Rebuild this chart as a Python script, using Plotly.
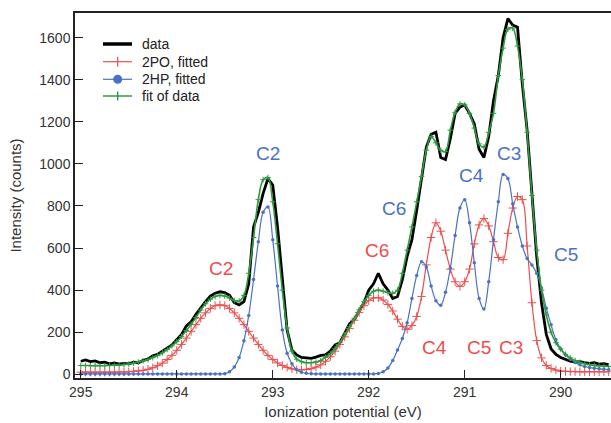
import plotly.graph_objects as go

# Ionization potential grid (eV), 0.05 eV spacing, 295.00 -> 289.50
energy = [
    295.00, 294.95, 294.90, 294.85, 294.80, 294.75, 294.70, 294.65, 294.60, 294.55,
    294.50, 294.45, 294.40, 294.35, 294.30, 294.25, 294.20, 294.15, 294.10, 294.05,
    294.00, 293.95, 293.90, 293.85, 293.80, 293.75, 293.70, 293.65, 293.60, 293.55,
    293.50, 293.45, 293.40, 293.35, 293.30, 293.25, 293.20, 293.15, 293.10, 293.05,
    293.00, 292.95, 292.90, 292.85, 292.80, 292.75, 292.70, 292.65, 292.60, 292.55,
    292.50, 292.45, 292.40, 292.35, 292.30, 292.25, 292.20, 292.15, 292.10, 292.05,
    292.00, 291.95, 291.90, 291.85, 291.80, 291.75, 291.70, 291.65, 291.60, 291.55,
    291.50, 291.45, 291.40, 291.35, 291.30, 291.25, 291.20, 291.15, 291.10, 291.05,
    291.00, 290.95, 290.90, 290.85, 290.80, 290.75, 290.70, 290.65, 290.60, 290.55,
    290.50, 290.45, 290.40, 290.35, 290.30, 290.25, 290.20, 290.15, 290.10, 290.05,
    290.00, 289.95, 289.90, 289.85, 289.80, 289.75, 289.70, 289.65, 289.60, 289.55, 289.50,
]

data_counts = [
    62, 68, 60, 64, 55, 58, 50, 54, 48, 52,
    50, 58, 55, 66, 72, 88, 95, 110, 128, 140,
    165, 190, 230, 250, 285, 318, 345, 372, 385, 392,
    388, 375, 340, 330, 345, 430, 700, 770, 860, 930,
    900, 700, 450, 210, 115, 92, 80, 78, 76, 82,
    90, 92, 110, 140, 150, 195, 240, 260, 300, 340,
    400, 430, 480, 430, 400, 360, 370, 450, 560, 640,
    780, 920, 1080, 1140, 1150, 1030, 1020, 1120, 1240, 1270,
    1280, 1240, 1190, 1070, 1030, 1130, 1300, 1420, 1600, 1690,
    1660, 1650, 1380, 1160, 840, 560, 340, 190, 120, 95,
    80, 70, 62, 58, 60, 55, 52, 55, 48, 50, 46,
]

po_fitted = [
    10, 10, 10, 10, 10, 10, 10, 10, 11, 11,
    12, 14, 16, 19, 24, 31, 41, 53, 70, 90,
    114, 142, 172, 204, 236, 266, 292, 313, 326, 330,
    326, 313, 292, 266, 236, 204, 172, 142, 114, 90,
    70, 54, 42, 33, 26, 22, 21, 23, 27, 34,
    45, 62, 83, 110, 142, 178, 217, 257, 294, 326,
    350, 363, 364, 353, 332, 301, 262, 228, 214, 232,
    275, 370, 520, 650, 720, 680, 590, 500, 440, 418,
    440, 500, 620, 710, 740, 705, 630, 555, 545, 670,
    790, 845, 830, 610, 340, 160, 78, 42, 28, 20,
    15, 14, 13, 13, 12, 12, 12, 12, 12, 12, 12,
]

hp_fitted = [
    2, 2, 2, 2, 2, 2, 2, 2, 2, 2,
    2, 2, 2, 2, 2, 2, 2, 2, 2, 2,
    2, 2, 2, 2, 2, 2, 2, 2, 2, 2,
    3, 12, 35, 80, 160, 280, 450, 630, 770, 795,
    640, 420, 210, 100, 50, 22, 10, 5, 3, 2,
    2, 2, 2, 2, 2, 2, 2, 2, 2, 2,
    2, 2, 4, 12, 30, 65, 115, 170, 245, 360,
    470, 535, 510, 420, 350, 328, 390, 505, 660, 790,
    830, 720, 530, 360, 310, 440, 640, 820, 950, 930,
    810, 700, 610, 550, 520, 480, 410, 314, 235, 165,
    120, 92, 72, 56, 45, 37, 32, 29, 26, 24, 22,
]

fit_counts = [
    42, 42, 41, 41, 41, 41, 42, 43, 44, 46,
    49, 53, 58, 64, 70, 79, 89, 102, 118, 135,
    155, 180, 208, 238, 270, 305, 335, 357, 370, 375,
    372, 362, 350, 348, 375, 480, 650, 830, 925, 935,
    820, 620, 400, 220, 110, 72, 60, 55, 55, 58,
    66, 80, 98, 122, 152, 188, 226, 266, 306, 345,
    375, 395, 400, 395, 388, 385, 400, 480, 590, 700,
    820, 940, 1065, 1130, 1100, 1065, 1058, 1160, 1245, 1285,
    1280, 1240, 1170, 1095, 1080, 1150, 1240, 1420, 1550, 1640,
    1645, 1560, 1400, 1150, 850, 590, 400, 282, 200, 150,
    120, 95, 78, 66, 57, 50, 45, 42, 40, 38, 37,
]

series_names = ["data", "2PO, fitted", "2HP, fitted", "fit of data"]

# Peak labels
red_labels = ["C2", "C6", "C4", "C5", "C3"]
red_label_x = [293.54, 291.91, 291.32, 290.85, 290.52]
red_label_y = [505, 586, 125, 125, 125]
blue_labels = ["C2", "C6", "C4", "C3", "C5"]
blue_label_x = [293.05, 291.74, 290.93, 290.54, 289.94]
blue_label_y = [1047, 790, 947, 1047, 567]

RED = "#ee4d4d"
BLUE = "#4a72c4"
GREEN = "#2e9a3e"
FONT = "Arial, 'Liberation Sans', sans-serif"

W, H = 611, 423
ML, MR, MT, MB = 75, 0, 13, 45
PW, PH = W - ML - MR, H - MT - MB

fig = go.Figure()
fig.add_trace(go.Scatter(
    x=energy, y=data_counts, mode="lines", name=series_names[0],
    line=dict(color="black", width=2.8), showlegend=False,
))
fig.add_trace(go.Scatter(
    x=energy, y=po_fitted, mode="lines+markers", name=series_names[1],
    line=dict(color=RED, width=1.2, shape="spline"),
    marker=dict(symbol="cross-thin", size=6, line=dict(color=RED, width=1)),
    showlegend=False,
))
fig.add_trace(go.Scatter(
    x=energy, y=hp_fitted, mode="lines+markers", name=series_names[2],
    line=dict(color=BLUE, width=1.2, shape="spline"),
    marker=dict(symbol="circle", size=3.5, color=BLUE),
    showlegend=False,
))
fig.add_trace(go.Scatter(
    x=energy, y=fit_counts, mode="lines+markers", name=series_names[3],
    line=dict(color=GREEN, width=1.6, shape="spline"),
    marker=dict(symbol="cross-thin", size=4, line=dict(color=GREEN, width=1)),
    showlegend=False,
))

for t, x, y in zip(red_labels, red_label_x, red_label_y):
    fig.add_annotation(x=x, y=y, text=t, showarrow=False,
                       font=dict(family=FONT, size=19, color=RED))
for t, x, y in zip(blue_labels, blue_label_x, blue_label_y):
    fig.add_annotation(x=x, y=y, text=t, showarrow=False,
                       font=dict(family=FONT, size=19, color=BLUE))

# Hand-placed legend (pixel layout converted to paper coordinates)
def px(xp):
    return (xp - ML) / PW

def py(yp):
    return (H - MB - yp) / PH

leg_rows = [44, 61.7, 79.3, 96]
leg_cols = ["black", RED, BLUE, GREEN]
leg_widths = [3.5, 1.2, 1.2, 1.5]
for name, yrow, col, lw in zip(series_names, leg_rows, leg_cols, leg_widths):
    fig.add_shape(type="line", xref="paper", yref="paper",
                  x0=px(103), x1=px(132), y0=py(yrow), y1=py(yrow),
                  line=dict(color=col, width=lw))
    fig.add_annotation(xref="paper", yref="paper", x=px(140), y=py(yrow),
                       xanchor="left", yanchor="middle", text=name, showarrow=False,
                       font=dict(family=FONT, size=14, color="#222222"))
# red cross
fig.add_shape(type="line", xref="paper", yref="paper",
              x0=px(117.7), x1=px(117.7), y0=py(56.7), y1=py(66.7),
              line=dict(color=RED, width=1.2))
# blue dot
fig.add_shape(type="circle", xref="paper", yref="paper",
              x0=px(113.2), x1=px(122.2), y0=py(74.8), y1=py(83.8),
              fillcolor=BLUE, line=dict(color=BLUE, width=0))
# green cross
fig.add_shape(type="line", xref="paper", yref="paper",
              x0=px(117.7), x1=px(117.7), y0=py(91.5), y1=py(100.5),
              line=dict(color=GREEN, width=1.4))

fig.update_layout(
    width=W, height=H,
    margin=dict(l=ML, r=MR, t=MT, b=MB),
    paper_bgcolor="white", plot_bgcolor="white",
    font=dict(family=FONT, size=14, color="#333333"),
    showlegend=False,
)
fig.update_xaxes(
    range=[295.06, 289.476], tickvals=[295, 294, 293, 292, 291, 290],
    ticks="inside", ticklen=8, tickwidth=1.2, tickcolor="#222222",
    showline=True, linecolor="#222222", linewidth=1.5, mirror=True,
    showgrid=False, zeroline=False,
    title=dict(text="Ionization potential (eV)", font=dict(size=15), standoff=8),
)
fig.update_yaxes(
    range=[-17.6, 1717], tickvals=[0, 200, 400, 600, 800, 1000, 1200, 1400, 1600],
    ticks="inside", ticklen=8, tickwidth=1.2, tickcolor="#222222",
    showline=True, linecolor="#222222", linewidth=1.5, mirror=False,
    showgrid=False, zeroline=False,
    title=dict(text="Intensity (counts)", font=dict(size=15), standoff=14),
)

fig.write_html("out.html")
